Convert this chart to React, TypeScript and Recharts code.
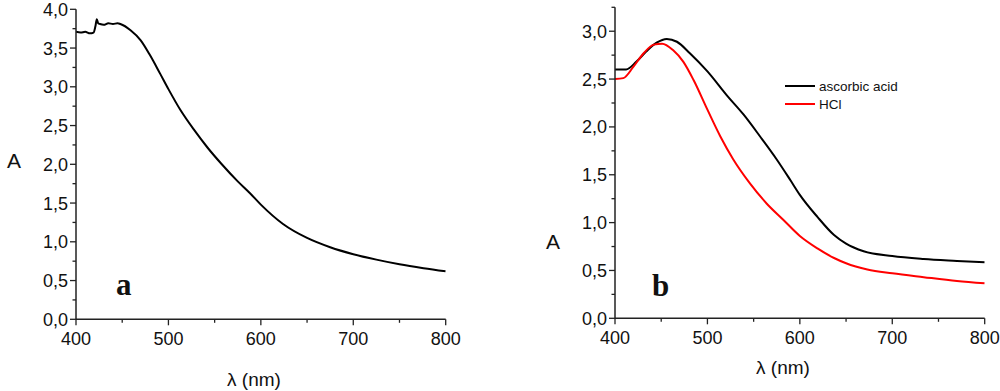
import React from 'react'
import { LineChart, Line, XAxis, YAxis } from 'recharts'

// panel a
const waveA = [400, 405, 410, 415, 419, 421, 422.5, 424, 426, 430, 435, 440, 445, 448, 459, 470, 480, 491, 500, 513, 528, 542, 557, 575, 588, 600, 624, 650, 675, 700, 725, 750, 776, 800]
const absA = [3.71, 3.7, 3.71, 3.69, 3.7, 3.78, 3.87, 3.82, 3.81, 3.8, 3.82, 3.81, 3.82, 3.81, 3.73, 3.6, 3.41, 3.17, 2.97, 2.7, 2.44, 2.22, 2.01, 1.78, 1.63, 1.48, 1.23, 1.05, 0.93, 0.84, 0.77, 0.71, 0.66, 0.62]

// panel b
const waveAscorbic = [400, 412, 423, 434, 445, 456, 467, 481, 500, 521, 539, 557, 575, 590, 600, 619, 637, 650, 669, 700, 734, 770, 800]
const absAscorbic = [2.6, 2.6, 2.68, 2.79, 2.88, 2.92, 2.89, 2.77, 2.58, 2.33, 2.13, 1.9, 1.66, 1.44, 1.29, 1.06, 0.87, 0.78, 0.7, 0.65, 0.62, 0.6, 0.585]
const waveHCl = [400, 409, 420, 431, 442, 451, 463, 474, 485, 500, 514, 528, 546, 564, 582, 600, 619, 637, 650, 673, 700, 734, 770, 800]
const absHCl = [2.5, 2.51, 2.63, 2.77, 2.86, 2.87, 2.8, 2.68, 2.49, 2.18, 1.9, 1.66, 1.41, 1.2, 1.03, 0.86, 0.73, 0.63, 0.575, 0.51, 0.47, 0.43, 0.39, 0.365]

const xTicks = [400, 450, 500, 550, 600, 650, 700, 750, 800]
const yTicksA = [0, 0.25, 0.5, 0.75, 1, 1.25, 1.5, 1.75, 2, 2.25, 2.5, 2.75, 3, 3.25, 3.5, 3.75, 4]
const yTicksB = [0, 0.25, 0.5, 0.75, 1, 1.25, 1.5, 1.75, 2, 2.25, 2.5, 2.75, 3, 3.25]
const legendNames = ['ascorbic acid', 'HCl']
const legendColors = ['#000000', '#ff0000']

const FONT = '"Liberation Sans", Arial, sans-serif'
const SERIF = '"Liberation Serif", "Times New Roman", serif'
const AXIS = '#222'

const toPoints = (xs: number[], ys: number[]) => xs.map((x, i) => ({ x, y: ys[i] }))
const fmtY = (v: number) => v.toFixed(1).replace('.', ',')

function XTick(props: any) {
  const { x, y, payload } = props
  const major = payload.value % 100 === 0
  return (
    <g>
      <line x1={x} y1={y} x2={x} y2={y + (major ? 6 : 3.5)} stroke={AXIS} strokeWidth={1.3} />
      {major && (
        <text x={x} y={y + 25.5} textAnchor="middle" fontFamily={FONT} fontSize={18} fill="#111">
          {payload.value}
        </text>
      )}
    </g>
  )
}

function YTick(props: any) {
  const { x, y, payload } = props
  const major = Math.abs((payload.value * 2) % 1) < 1e-6
  return (
    <g>
      <line x1={x} y1={y} x2={x - (major ? 6 : 3.5)} y2={y} stroke={AXIS} strokeWidth={1.3} />
      {major && (
        <text x={x - 8} y={y + 6.5} textAnchor="end" fontFamily={FONT} fontSize={18} fill="#111">
          {fmtY(payload.value)}
        </text>
      )}
    </g>
  )
}

function Axes({ yDomain, yTicks, xHeight, yWidth }: { yDomain: number[]; yTicks: number[]; xHeight: number; yWidth: number }) {
  return null
}

export default function App() {
  return (
    <div style={{ position: 'fixed', left: 0, top: 0, width: 1000, height: 391, background: '#fff' }}>
      <div style={{ position: 'absolute', left: 0, top: 0 }}>
        <LineChart width={470} height={391} margin={{ top: 9.3, right: 24.3, bottom: 0, left: 0 }}>
          <XAxis
            type="number"
            dataKey="x"
            domain={[400, 800]}
            ticks={xTicks}
            interval={0}
            height={71.7}
            tickLine={false}
            tickSize={0}
            tickMargin={0}
            tick={<XTick />}
            stroke={AXIS}
            strokeWidth={1.5}
            allowDataOverflow
          />
          <YAxis
            type="number"
            domain={[0, 4]}
            ticks={yTicksA}
            interval={0}
            width={76}
            tickLine={false}
            tickSize={0}
            tickMargin={0}
            tick={<YTick />}
            stroke={AXIS}
            strokeWidth={1.5}
            allowDataOverflow
          />
          <Line
            data={toPoints(waveA, absA)}
            dataKey="y"
            type="monotone"
            stroke="#000"
            strokeWidth={2}
            dot={false}
            isAnimationActive={false}
          />
        </LineChart>
      </div>
      <div style={{ position: 'absolute', left: 500, top: 0 }}>
        <LineChart width={500} height={391} margin={{ top: 7.3, right: 15.3, bottom: 0, left: 0 }}>
          <XAxis
            type="number"
            dataKey="x"
            domain={[400, 800]}
            ticks={xTicks}
            interval={0}
            height={72.7}
            tickLine={false}
            tickSize={0}
            tickMargin={0}
            tick={<XTick />}
            stroke={AXIS}
            strokeWidth={1.5}
            allowDataOverflow
          />
          <YAxis
            type="number"
            domain={[0, 3.25]}
            ticks={yTicksB}
            interval={0}
            width={115}
            tickLine={false}
            tickSize={0}
            tickMargin={0}
            tick={<YTick />}
            stroke={AXIS}
            strokeWidth={1.5}
            allowDataOverflow
          />
          <Line
            data={toPoints(waveAscorbic, absAscorbic)}
            dataKey="y"
            name={legendNames[0]}
            type="monotone"
            stroke={legendColors[0]}
            strokeWidth={2}
            dot={false}
            isAnimationActive={false}
          />
          <Line
            data={toPoints(waveHCl, absHCl)}
            dataKey="y"
            name={legendNames[1]}
            type="monotone"
            stroke={legendColors[1]}
            strokeWidth={2}
            dot={false}
            isAnimationActive={false}
          />
        </LineChart>
      </div>
      <svg width={1000} height={391} style={{ position: 'absolute', left: 0, top: 0, pointerEvents: 'none' }}>
        <text x={14} y={168} textAnchor="middle" fontFamily={FONT} fontSize={21} fill="#111">A</text>
        <text x={553} y={249} textAnchor="middle" fontFamily={FONT} fontSize={21} fill="#111">A</text>
        <text x={254} y={386} textAnchor="middle" fontFamily={FONT} fontSize={19} fill="#111">λ (nm)</text>
        <text x={783} y={374} textAnchor="middle" fontFamily={FONT} fontSize={19} fill="#111">λ (nm)</text>
        <text x={116} y={295} fontFamily={SERIF} fontWeight="bold" fontSize={31} fill="#111">a</text>
        <text x={652} y={296} fontFamily={SERIF} fontWeight="bold" fontSize={31} fill="#111">b</text>
        {legendNames.map((name, i) => (
          <g key={name}>
            <line x1={785} y1={86 + i * 18} x2={815} y2={86 + i * 18} stroke={legendColors[i]} strokeWidth={2} />
            <text x={819} y={91 + i * 18} fontFamily={FONT} fontSize={13.5} fill="#111">{name}</text>
          </g>
        ))}
      </svg>
    </div>
  )
}
